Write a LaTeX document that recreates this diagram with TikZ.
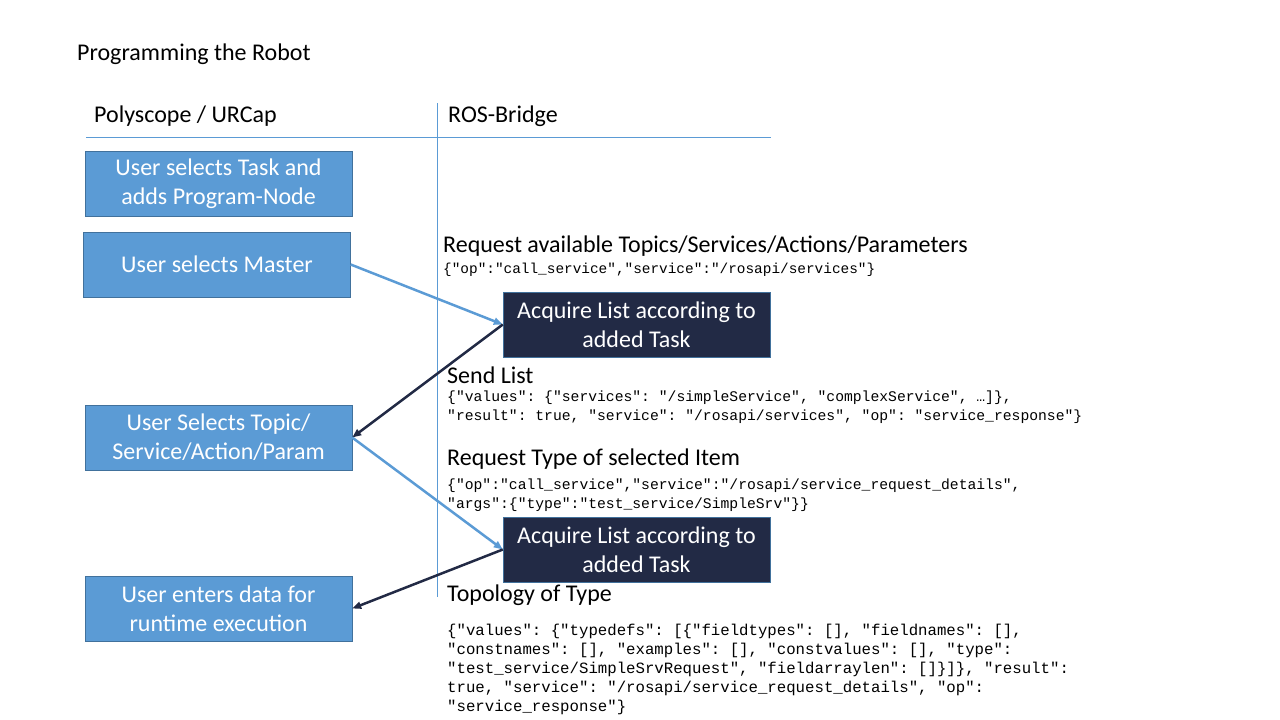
\documentclass[tikz,border=0pt]{standalone}
\usepackage{fontspec}
\setmainfont{Carlito}
\setmonofont{Liberation Mono}
\usetikzlibrary{arrows.meta,positioning}
\definecolor{boxblue}{HTML}{5B9BD5}
\definecolor{boxedge}{HTML}{41719C}
\definecolor{navy}{HTML}{222A45}
\begin{document}
\begin{tikzpicture}[x=1pt,y=-1pt,>={Triangle[length=9pt,width=7pt]},
  user/.style={draw=boxedge,fill=boxblue,text=white,minimum width=267pt,minimum height=65pt,align=center,font=\fontsize{24}{29}\selectfont},
  bridge/.style={draw=boxedge,fill=navy,text=white,minimum width=267pt,minimum height=65pt,align=center,font=\fontsize{24}{29}\selectfont},
  lbl/.style={anchor=west,inner sep=0pt,font=\fontsize{24}{29}\selectfont},
  code/.style={anchor=west,inner sep=0pt,align=left,font=\ttfamily\fontsize{14.7}{19.6}\selectfont},
  light/.style={->,draw=boxblue,line width=2.5pt},
  dark/.style={->,draw=navy,line width=2.5pt}]
\useasboundingbox (0,0) rectangle (1280,720);
\node[lbl] (title) at (77,54) {Programming the Robot};
\node[lbl] (poly) at (94,116) {Polyscope / URCap};
\node[lbl] (ros) at (448,116) {ROS-Bridge};
\draw[boxblue,line width=1pt] (86,137) -- (771,137);
\draw[boxblue,line width=1pt] (437,103) -- (437,597);
% left column
\node[user] (task) at (218.5,183.5) {User selects Task and\\adds Program-Node};
\node[user] (master) at (217,264.5) {User selects Master};
\node[user] (topic) at (218.5,437.5) {User Selects Topic/\\Service/Action/Param};
\node[user] (data) at (218.5,608.5) {User enters data for\\runtime execution};
% bridge column
\node[bridge] (listA) at (636.5,324.5) {Acquire List according to\\added Task};
\node[bridge] (listB) at (636.5,549.5) {Acquire List according to\\added Task};
% messages
\node[lbl] (req) at (443,246) {Request available Topics/Services/Actions/Parameters};
\node[code,font=\ttfamily\fontsize{14.4}{19.6}\selectfont] (reqc) at (443,270) {\{"op":"call\_service","service":"/rosapi/services"\}};
\node[lbl] (send) at (447,375) {Send List};
\node[code] (sendc) at (447,407) {\{"values": \{"services": "/simpleService", "complexService", …]\},\\"result": true, "service": "/rosapi/services", "op": "service\_response"\}};
\node[lbl] (type) at (447,459) {Request Type of selected Item};
\node[code] (typec) at (447,495) {\{"op":"call\_service","service":"/rosapi/service\_request\_details",\\"args":\{"type":"test\_service/SimpleSrv"\}\}};
\node[lbl] (topo) at (447,595) {Topology of Type};
\node[code,font=\ttfamily\fontsize{15.7}{19}\selectfont] (topoc) at (447,669) {\{"values": \{"typedefs": [\{"fieldtypes": [], "fieldnames": [],\\"constnames": [], "examples": [], "constvalues": [], "type":\\"test\_service/SimpleSrvRequest", "fieldarraylen": []\}]\}, "result":\\true, "service": "/rosapi/service\_request\_details", "op":\\"service\_response"\}};
% flow
\draw[light] (master.east) -- (listA.west);
\draw[dark] (listA.west) -- (topic.east);
\draw[light] (topic.east) -- (listB.west);
\draw[dark] (listB.west) -- (data.east);
\end{tikzpicture}
\end{document}
